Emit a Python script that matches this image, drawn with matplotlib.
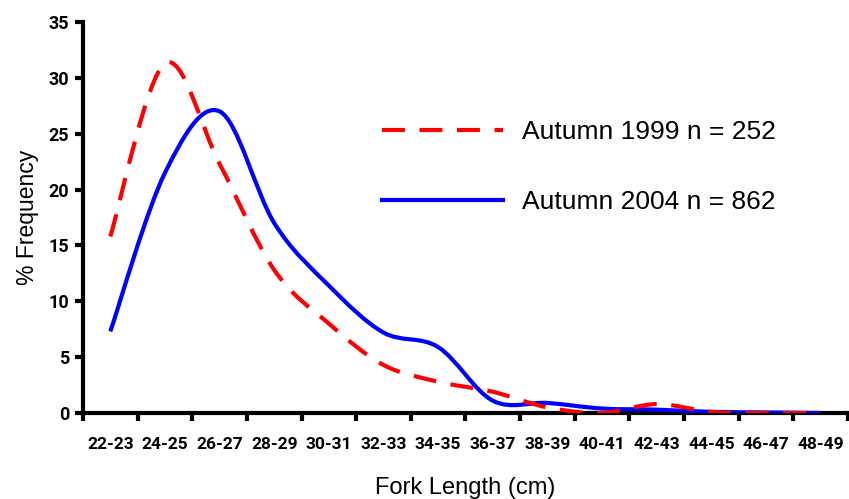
import numpy as np
import matplotlib
matplotlib.use('Agg')
import matplotlib.pyplot as plt
from matplotlib.path import Path
from matplotlib.patches import PathPatch
from matplotlib.lines import Line2D

# datos
categorias = ['22-23', '24-25', '26-27', '28-29', '30-31', '32-33', '34-35',
              '36-37', '38-39', '40-41', '42-43', '44-45', '46-47', '48-49']
otono_1999 = [15.8, 31.3, 22.3, 12.8, 8.0, 4.3, 2.8, 1.9, 0.5, 0.0, 0.8, 0.1, 0.0, 0.0]
otono_2004 = [7.3, 21.5, 27.0, 17.0, 11.4, 7.2, 5.9, 1.1, 0.9, 0.4, 0.3, 0.1, 0.05, 0.0]
etiquetas = ['Autumn 1999 n = 252', 'Autumn 2004 n = 862']


def curva_suave(x, y):
    # linea suavizada tipo Excel (Bezier con tension 1/6)
    pts = np.column_stack([x, y]).astype(float)
    n = len(pts)
    verts = [pts[0]]
    codes = [Path.MOVETO]
    for i in range(n - 1):
        p0 = pts[max(i - 1, 0)]
        p1 = pts[i]
        p2 = pts[i + 1]
        p3 = pts[min(i + 2, n - 1)]
        c1 = p1 + (p2 - p0) / 6
        c2 = p2 - (p3 - p1) / 6
        verts += [c1, c2, p2]
        codes += [Path.CURVE4] * 3
    return Path(verts, codes)


plt.rcParams['font.family'] = ['Liberation Sans', 'DejaVu Sans']
fuente_ticks = ['Roboto', 'DejaVu Sans']

fig = plt.figure(figsize=(8.49, 4.99), dpi=100)
ax = fig.add_axes([83 / 849, 1 - 413 / 499, 765 / 849, 391 / 499])

x = np.arange(len(categorias))
rojo = PathPatch(curva_suave(x, otono_1999), fill=False, edgecolor='#FF0000', lw=3,
                 linestyle=(0, (5.5, 3.5)), capstyle='butt', zorder=3)
azul = PathPatch(curva_suave(x, otono_2004), fill=False, edgecolor='#0000FF', lw=3,
                 zorder=2)
ax.add_patch(rojo)
ax.add_patch(azul)

ax.set_xlim(-0.5, len(categorias) - 0.5)
ax.set_ylim(0, 35)

for s in ['top', 'right']:
    ax.spines[s].set_visible(False)
for s in ['left', 'bottom']:
    ax.spines[s].set_linewidth(3)
    ax.spines[s].set_zorder(1)

ax.set_yticks(range(0, 36, 5))
ax.set_xticks(np.arange(-0.5, len(categorias), 1.0))
ax.set_xticklabels([])
ax.set_xticks(x, minor=True)
ax.set_xticklabels(categorias, minor=True, family=fuente_ticks,
                   fontweight='bold', fontsize=12.5)
ax.tick_params(axis='x', which='major', length=6, width=3, direction='out')
ax.tick_params(axis='x', which='minor', length=0, pad=17)
ax.tick_params(axis='y', length=6, width=3, direction='out', pad=4)
for t in ax.get_yticklabels():
    t.set_family(fuente_ticks)
    t.set_fontweight('bold')
    t.set_fontsize(13)

ax.set_xlabel('Fork Length (cm)', fontsize=17, labelpad=18)
ax.set_ylabel('% Frequency', fontsize=16.5, labelpad=7)

manijas = [Line2D([], [], color='#FF0000', lw=3, linestyle=(0, (5.5, 3.5)), dash_capstyle='butt'),
           Line2D([], [], color='#0000FF', lw=3)]
fig.legend(manijas, etiquetas, loc='center left', bbox_to_anchor=(382 / 849, 1 - 167 / 499),
           frameon=False, fontsize=19, handlelength=4.6, handletextpad=0.7,
           labelspacing=1.75, borderpad=0, borderaxespad=0)

fig.savefig('out.png', dpi=100)
